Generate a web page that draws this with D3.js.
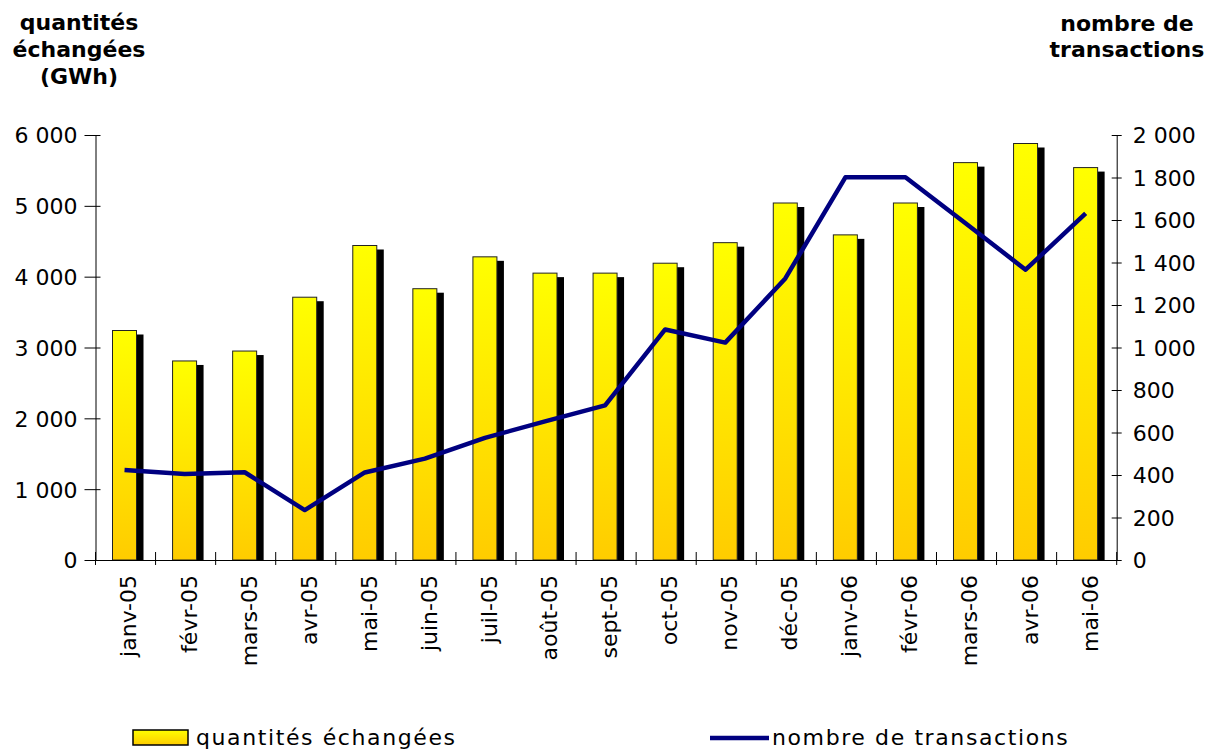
<!DOCTYPE html>
<html>
<head>
<meta charset="utf-8">
<script src="https://cdn.jsdelivr.net/npm/d3@7"></script>
<style>
body { margin: 0; background: #fff; }
svg { display: block; }
text { font-family: "DejaVu Sans", Verdana, sans-serif; fill: #000; }
.tick-label { font-size: 22px; }
.title { font-size: 22px; font-weight: bold; }
.legend-text { font-size: 22px; letter-spacing: 1.6px; }
</style>
</head>
<body>
<svg id="chart" width="1212" height="749"></svg>
<script>
// data
var months = ['janv-05','févr-05','mars-05','avr-05','mai-05','juin-05','juil-05','août-05','sept-05',
              'oct-05','nov-05','déc-05','janv-06','févr-06','mars-06','avr-06','mai-06'];
var quantites = [3240, 2810, 2950, 3710, 4440, 3830, 4280, 4050, 4050,
                 4190, 4480, 5040, 4590, 5040, 5610, 5880, 5540];
var transactions = [423, 405, 413, 235, 412, 477, 575, 652, 728,
                    1085, 1023, 1325, 1801, 1801, 1585, 1366, 1631];
var leftTicks = [0, 1000, 2000, 3000, 4000, 5000, 6000];
var rightTicks = [0, 200, 400, 600, 800, 1000, 1200, 1400, 1600, 1800, 2000];
var leftTitle = ['quantités', 'échangées', '(GWh)'];
var rightTitle = ['nombre de', 'transactions'];
var legendLabels = ['quantités échangées', 'nombre de transactions'];

var frm = { left: 95.5, right: 1116.7, top: 135, bottom: 560 };

var svg = d3.select('#chart');

var fmt = function(v){ return d3.format(',')(v).replace(/,/g, ' '); };

var x = d3.scaleBand().domain(months).range([frm.left, frm.right]).paddingInner(0).paddingOuter(0);
var yL = d3.scaleLinear().domain([0, 6000]).range([frm.bottom, frm.top]);
var yR = d3.scaleLinear().domain([0, 2000]).range([frm.bottom, frm.top]);

var defs = svg.append('defs');
var grad = defs.append('linearGradient').attr('id', 'barGrad')
	.attr('x1', 0).attr('y1', 0).attr('x2', 0).attr('y2', 1);
grad.append('stop').attr('offset', '0%').attr('stop-color', '#ffff00');
grad.append('stop').attr('offset', '100%').attr('stop-color', '#ffcc00');

var barW = 24, barOff = 17, shX = 7, shY = 4;

// shadows
svg.append('g').selectAll('rect').data(quantites).enter().append('rect')
	.attr('x', function(d, i){ return x(months[i]) + barOff + shX; })
	.attr('y', function(d){ return yL(d) + shY; })
	.attr('width', barW)
	.attr('height', function(d){ return frm.bottom - yL(d) - shY; })
	.attr('fill', '#000');

// bars
svg.append('g').selectAll('rect').data(quantites).enter().append('rect')
	.attr('x', function(d, i){ return x(months[i]) + barOff; })
	.attr('y', function(d){ return yL(d); })
	.attr('width', barW)
	.attr('height', function(d){ return frm.bottom - yL(d); })
	.attr('fill', 'url(#barGrad)')
	.attr('stroke', '#222')
	.attr('stroke-width', 1);

// left axis
var gL = svg.append('g').attr('transform', 'translate(' + frm.left + ',0)')
	.call(d3.axisLeft(yL).tickValues(leftTicks).tickFormat(fmt).tickSizeOuter(0));
gL.select('.domain').attr('stroke', '#000');
gL.selectAll('.tick line').attr('x1', -11).attr('x2', 5).attr('stroke', '#000');
gL.selectAll('.tick text').attr('class', 'tick-label').attr('x', -18).attr('dy', '0.36em')
	.style('font-size', '22px').style('font-family', '"DejaVu Sans", Verdana, sans-serif');

// right axis
var gR = svg.append('g').attr('transform', 'translate(' + frm.right + ',0)')
	.call(d3.axisRight(yR).tickValues(rightTicks).tickFormat(fmt).tickSizeOuter(0));
gR.select('.domain').attr('stroke', '#000');
gR.selectAll('.tick line').attr('x1', -5).attr('x2', 5).attr('stroke', '#000');
gR.selectAll('.tick text').attr('class', 'tick-label').attr('x', 16).attr('dy', '0.36em')
	.style('font-size', '22px').style('font-family', '"DejaVu Sans", Verdana, sans-serif');

// bottom axis
var gB = svg.append('g').attr('transform', 'translate(0,' + frm.bottom + ')')
	.call(d3.axisBottom(x).tickSize(0).tickSizeOuter(0));
gB.select('.domain').attr('stroke', '#000');
gB.selectAll('.tick text')
	.attr('class', 'tick-label')
	.style('font-size', '22px').style('font-family', '"DejaVu Sans", Verdana, sans-serif')
	.attr('text-anchor', 'end')
	.attr('transform', 'rotate(-90)')
	.attr('x', -15).attr('y', 3).attr('dy', '0.36em');
var bounds = months.map(function(m){ return x(m); }).concat([x.range()[1]]);
gB.selectAll('.bound').data(bounds).enter().append('line')
	.attr('class', 'bound')
	.attr('x1', function(d){ return d; }).attr('x2', function(d){ return d; })
	.attr('y1', -8).attr('y2', 5)
	.attr('stroke', '#000');

// line
var line = d3.line()
	.x(function(d, i){ return x(months[i]) + x.bandwidth() / 2 - 1; })
	.y(function(d){ return yR(d); });
svg.append('path').datum(transactions)
	.attr('d', line)
	.attr('fill', 'none')
	.attr('stroke', '#000080')
	.attr('stroke-width', 4.5)
	.attr('stroke-linejoin', 'round');

// titles
svg.append('g').selectAll('text').data(leftTitle).enter().append('text')
	.attr('class', 'title')
	.attr('x', 79).attr('y', function(d, i){ return 30 + i * 27; })
	.attr('text-anchor', 'middle')
	.text(function(d){ return d; });
svg.append('g').selectAll('text').data(rightTitle).enter().append('text')
	.attr('class', 'title')
	.attr('x', 1127).attr('y', function(d, i){ return 31 + i * 26; })
	.attr('text-anchor', 'middle')
	.text(function(d){ return d; });

// legend
var lg = svg.append('g');
lg.append('rect').attr('x', 133).attr('y', 730).attr('width', 55).attr('height', 15)
	.attr('fill', 'url(#barGrad)').attr('stroke', '#000').attr('stroke-width', 1.5);
lg.append('text').attr('class', 'legend-text').attr('x', 196).attr('y', 745).text(legendLabels[0]);
lg.append('line').attr('x1', 710).attr('x2', 769).attr('y1', 738).attr('y2', 738)
	.attr('stroke', '#000080').attr('stroke-width', 4.5);
lg.append('text').attr('class', 'legend-text').attr('x', 772).attr('y', 745).text(legendLabels[1]);
</script>
</body>
</html>
